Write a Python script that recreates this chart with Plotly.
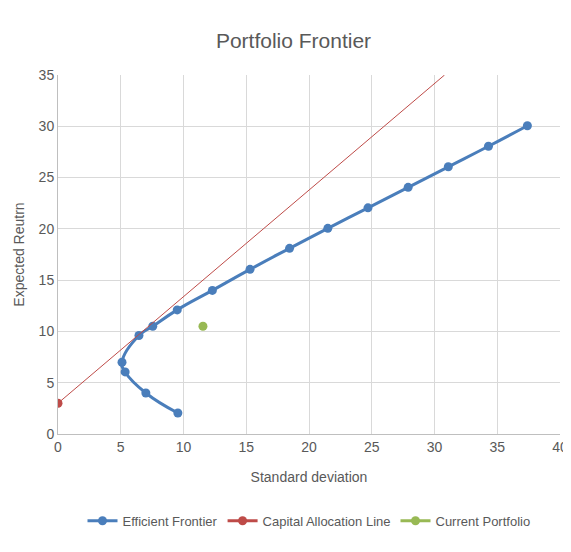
import plotly.graph_objects as go

ef_sd = [9.55, 7.0, 5.35, 5.1, 6.45, 7.55, 9.5, 12.3, 15.3, 18.45, 21.5, 24.7, 27.9, 31.1, 34.3, 37.4]
ef_ret = [2.05, 4.0, 6.05, 7.0, 9.6, 10.5, 12.1, 14.0, 16.05, 18.1, 20.05, 22.05, 24.05, 26.05, 28.05, 30.05]
cal_sd = [0, 30.8]
cal_ret = [3, 35]
cur_sd = [11.55]
cur_ret = [10.5]

font = "Liberation Sans"
fig = go.Figure()
fig.add_trace(go.Scatter(x=ef_sd, y=ef_ret, mode="lines+markers", name="Efficient Frontier",
    line=dict(color="#4a7ebb", width=3, shape="spline", smoothing=1.3),
    marker=dict(color="#4a7ebb", size=9)))
fig.add_trace(go.Scatter(x=cal_sd, y=cal_ret, mode="lines", name="Capital Allocation Line",
    line=dict(color="#be4b48", width=1), showlegend=False))
fig.add_trace(go.Scatter(x=[cal_sd[0]], y=[cal_ret[0]], mode="lines+markers", name="Capital Allocation Line",
    line=dict(color="#be4b48", width=3), marker=dict(color="#be4b48", size=9)))
fig.add_trace(go.Scatter(x=cur_sd, y=cur_ret, mode="lines+markers", name="Current Portfolio",
    line=dict(color="#98b954", width=3), marker=dict(color="#98b954", size=9)))

axis = dict(showgrid=True, gridcolor="#d9d9d9", zeroline=False, showline=True, linecolor="#bfbfbf",
            tickfont=dict(size=14, color="#595959"), ticks="", automargin=False)
fig.update_layout(
    width=571, height=552, paper_bgcolor="white", plot_bgcolor="white",
    font=dict(family=font, color="#595959"),
    title=dict(text="Portfolio Frontier", x=0.5, y=0.955, xanchor="center", font=dict(size=21, color="#595959"),
               automargin=False),
    margin=dict(l=50, r=19, t=67, b=126),
    xaxis=dict(axis, range=[0, 40], dtick=5, title=dict(text="Standard deviation", font=dict(size=14), standoff=18)),
    yaxis=dict(axis, range=[0, 35], dtick=5, title=dict(text="Expected Reutrn", font=dict(size=14), standoff=10)),
    legend=dict(orientation="h", x=0.5, xanchor="center", y=-0.2, yanchor="top", font=dict(size=13, color="#595959")),
)
fig.write_html("out.html")
